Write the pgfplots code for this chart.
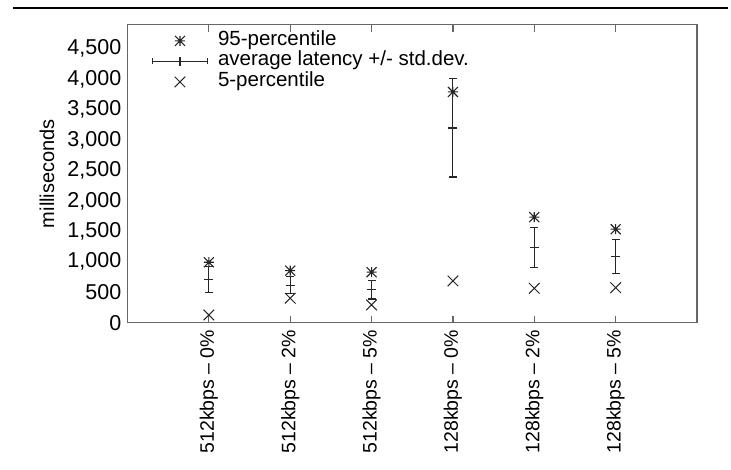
\documentclass[border=0pt]{standalone}
\usepackage{fontspec}
\setmainfont{Liberation Sans}
\usepackage{pgfplots}
\usepackage{pgfplotstable}
\pgfplotsset{compat=1.18}

\pgfdeclareplotmark{gpstar}{%
  \pgfpathmoveto{\pgfqpoint{-\pgfplotmarksize}{0pt}}\pgfpathlineto{\pgfqpoint{\pgfplotmarksize}{0pt}}%
  \pgfpathmoveto{\pgfqpoint{0pt}{-\pgfplotmarksize}}\pgfpathlineto{\pgfqpoint{0pt}{\pgfplotmarksize}}%
  \pgfpathmoveto{\pgfqpoint{-\pgfplotmarksize}{-\pgfplotmarksize}}\pgfpathlineto{\pgfqpoint{\pgfplotmarksize}{\pgfplotmarksize}}%
  \pgfpathmoveto{\pgfqpoint{-\pgfplotmarksize}{\pgfplotmarksize}}\pgfpathlineto{\pgfqpoint{\pgfplotmarksize}{-\pgfplotmarksize}}%
  \pgfusepathqstroke}

\pgfplotstableread{
x p95  mean  sd   p5
1 994  703   214  127
2 856  618   137  402
3 830  540   150  293
4 3792 3200  806  686
5 1735 1241  329  566
6 1537 1087  274  576
}\data

\begin{document}
\begin{tikzpicture}
\useasboundingbox (0,0) rectangle (731bp,470bp);
\draw[line width=1.3bp, black] (13bp,462bp) -- (728bp,462bp);
\begin{axis}[
  at={(127.5bp,147.3bp)}, anchor=south west,
  scale only axis, width=569.5bp, height=298.2bp,
  xmin=0, xmax=7, ymin=0, ymax=4900,
  font=\fontsize{20bp}{24bp}\selectfont,
  /pgf/number format/assume math mode=true,
  /pgf/number format/1000 sep={,},
  axis line style={black!60, line width=1.3bp},
  xtick={1,2,3,4,5,6},
  xticklabels={512kbps – 0\%, 512kbps – 2\%, 512kbps – 5\%, 128kbps – 0\%, 128kbps – 2\%, 128kbps – 5\%},
  xticklabel style={rotate=90, anchor=east, inner sep=0pt, font=\fontsize{19.5bp}{23bp}\selectfont},
  xticklabel shift=7bp,
  ytick={0,500,...,4500},
  scaled y ticks=false,
  yticklabel style={inner sep=0pt, font=\fontsize{21.5bp}{26bp}\selectfont},
  yticklabel shift=6bp,
  ytick style={draw=none},
  xtick style={black!60, line width=1.2bp},
  tick align=inside,
  major tick length=7bp,
  ylabel={milliseconds},
  every axis y label/.style={at={(axis description cs:0,0.5)}, xshift=-80.5bp, rotate=90, anchor=center, font=\fontsize{20bp}{24bp}\selectfont},
  legend style={at={(0.0425,0.98)}, anchor=north west, draw=none, fill=none, inner sep=0pt,
    column sep=10bp, row sep=0pt, font=\fontsize{20.5bp}{25bp}\selectfont,
    nodes={inner sep=0pt, text height=14.5bp, text depth=6bp, anchor=west}},
  legend cell align=left,
]
\addplot[only marks, mark=gpstar, mark size=5bp, black!85, line width=1.1bp,
  legend image code/.code={\path (0bp,0) (55bp,0); \draw[mark=gpstar, mark size=5bp] plot coordinates {(27.5bp,0)};}]
  table[x=x, y=p95] {\data};
\addlegendentry{95-percentile}
\addplot[only marks, mark=-, mark size=4.5bp, black!85, line width=1.1bp,
  legend image code/.code={\draw[solid] (0bp,0) -- (55bp,0); \draw[solid] (0bp,-3bp) -- (0bp,3bp); \draw[solid] (55bp,-3bp) -- (55bp,3bp); \draw[solid] (27.5bp,-4.5bp) -- (27.5bp,4.5bp);},
  error bars/.cd, y dir=both, y explicit,
  error bar style={black!85, line width=1.1bp},
  error mark options={rotate=90, black!85, mark size=4bp, line width=1.1bp},
  ]
  table[x=x, y=mean, y error=sd] {\data};
\addlegendentry{average latency +/- std.dev.}
\addplot[only marks, mark=x, mark size=7.5bp, black!85, line width=1.0bp,
  legend image code/.code={\path (0bp,0) (55bp,0); \draw[mark=x, mark size=7.5bp] plot coordinates {(27.5bp,0)};}]
  table[x=x, y=p5] {\data};
\addlegendentry{5-percentile}
\end{axis}
\end{tikzpicture}
\end{document}
